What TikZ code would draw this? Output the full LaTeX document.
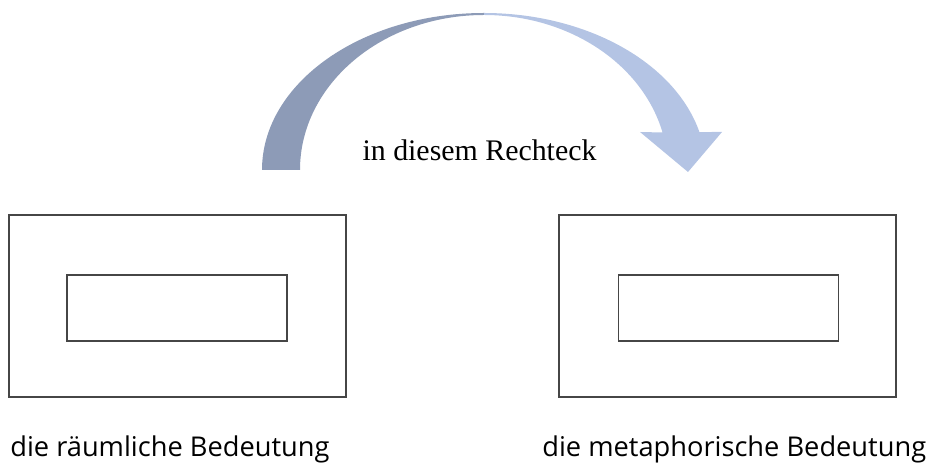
\documentclass[tikz,border=0pt]{standalone}
\usepackage{fontspec}
\usepackage{tikz}
\usetikzlibrary{positioning}
\usetikzlibrary{calc}
\newfontfamily\serifschrift{Liberation Serif}
\newfontfamily\labelschrift{Open Sans}
\definecolor{bogendunkel}{RGB}{141,155,183}
\definecolor{bogenhell}{RGB}{180,196,228}
\definecolor{rahmengrau}{RGB}{70,70,70}
\tikzset{
        box/.style={rectangle, draw=rahmengrau, line width=0.6pt, inner sep=0pt},
        % Outer rectangles
        box_outer/.style={box, minimum width=6.74cm, minimum height=3.64cm},
        % Inner rectangles
        box_inner/.style={box, minimum width=4.4cm, minimum height=1.32cm},
        % Labels under the rectangles
        label_bottom/.style={anchor=base west, inner sep=0pt, font=\labelschrift\fontsize{15.5}{18}\selectfont},
        % Label under the arrow
        label_arrow/.style={anchor=base, inner sep=0pt, font=\serifschrift\fontsize{17}{20}\selectfont}
}

\begin{document}
\begin{tikzpicture}[
            bogen_links/.style={fill=bogendunkel, draw=none},
            bogen_rechts/.style={fill=bogenhell, draw=none}
        ]
            \useasboundingbox (0,0) rectangle (18.62,9.36);
            % Rectangles
            \node[box_outer] (raum) at (3.55,3.24) {};
            \node[box_inner] (raum_innen) at (3.54,3.20) {};
            \node[box_outer] (meta) at (14.55,3.24) {};
            \node[box_inner] (meta_innen) at (14.57,3.20) {};
            \node[label_bottom] (raum_text) at (0.20,0.22) {die räumliche Bedeutung};
            \node[label_bottom] (meta_text) at (10.84,0.22) {die metaphorische Bedeutung};
            % Curved arrow
            \coordinate (mitte) at (9.68,5.96);
            \fill[bogen_links] ($(mitte)+(180:4.44 and 3.14)$)
                arc[start angle=180, end angle=90, x radius=4.44, y radius=3.14]
                -- ($(mitte)+(90:3.68 and 3.10)$)
                arc[start angle=90, end angle=180, x radius=3.68, y radius=3.10]
                -- cycle;
            \fill[bogen_rechts] ($(mitte)+(90:4.44 and 3.14)$)
                arc[start angle=90, end angle=14, x radius=4.44, y radius=3.14]
                -- (14.44,6.72) -- (13.76,5.92) -- (12.80,6.72)
                -- ($(mitte)+(14:3.68 and 3.10)$)
                arc[start angle=14, end angle=90, x radius=3.68, y radius=3.10]
                -- cycle;
            \node[label_arrow] (titel) at (9.59,6.14) {in diesem Rechteck};
        \end{tikzpicture}
\end{document}
